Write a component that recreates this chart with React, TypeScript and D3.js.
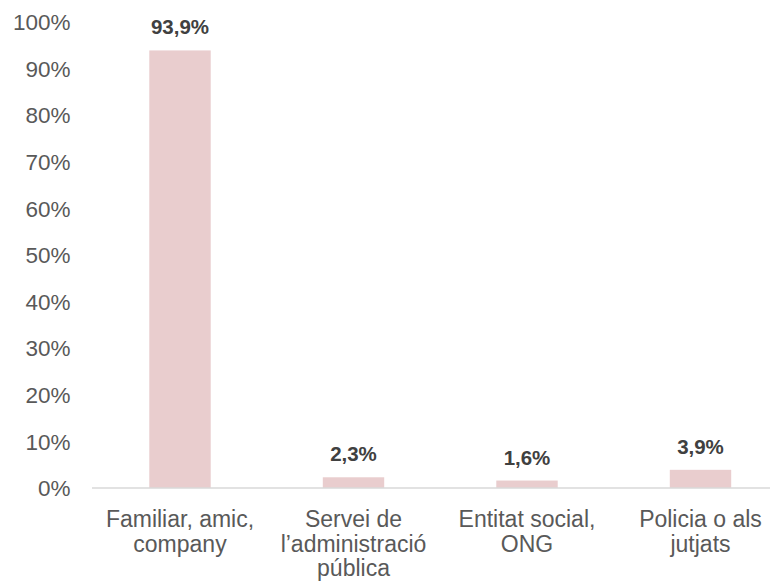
import React from "react";
import * as d3 from "d3";

const categories: string[][] = [
  ["Familiar, amic,", "company"],
  ["Servei de", "l\u2019administració", "pública"],
  ["Entitat social,", "ONG"],
  ["Policia o als", "jutjats"],
];
const values: number[] = [93.9, 2.3, 1.6, 3.9];
const valueLabels: string[] = ["93,9%", "2,3%", "1,6%", "3,9%"];
const yTicks: number[] = [0, 10, 20, 30, 40, 50, 60, 70, 80, 90, 100];

const W = 770;
const H = 583;

export default function App() {
  const x = d3
    .scaleBand<number>()
    .domain(values.map((_, i) => i))
    .range([93.25, 787.25])
    .paddingInner(0.646)
    .paddingOuter(0.323);
  const y = d3.scaleLinear().domain([0, 100]).range([488, 22]);
  const font = "'Liberation Sans', Arial, sans-serif";

  return (
    <svg
      width={W}
      height={H}
      style={{ position: "absolute", left: 0, top: 0 }}
      fontFamily={font}
    >
      <rect width={W} height={H} fill="#ffffff" />
      {yTicks.map((t) => (
        <text
          key={t}
          x={70.5}
          y={y(t)}
          dy="0.36em"
          textAnchor="end"
          fontSize={22.5}
          fill="#595959"
        >
          {t}%
        </text>
      ))}
      {values.map((v, i) => (
        <rect
          key={i}
          x={x(i)}
          y={y(v)}
          width={x.bandwidth()}
          height={y(0) - y(v)}
          fill="#E9CDCE"
        />
      ))}
      <line x1={92} x2={W} y1={y(0)} y2={y(0)} stroke="#D9D9D9" strokeWidth={1.5} />
      {values.map((v, i) => (
        <text
          key={i}
          x={(x(i) as number) + x.bandwidth() / 2}
          y={y(v) - 16}
          textAnchor="middle"
          fontSize={20.5}
          fontWeight="bold"
          fill="#404040"
        >
          {valueLabels[i]}
        </text>
      ))}
      {categories.map((lines, i) => (
        <text
          key={i}
          x={(x(i) as number) + x.bandwidth() / 2}
          textAnchor="middle"
          fontSize={23}
          fill="#595959"
        >
          {lines.map((l, j) => (
            <tspan key={j} x={(x(i) as number) + x.bandwidth() / 2} y={527 + j * 24.5}>
              {l}
            </tspan>
          ))}
        </text>
      ))}
    </svg>
  );
}
